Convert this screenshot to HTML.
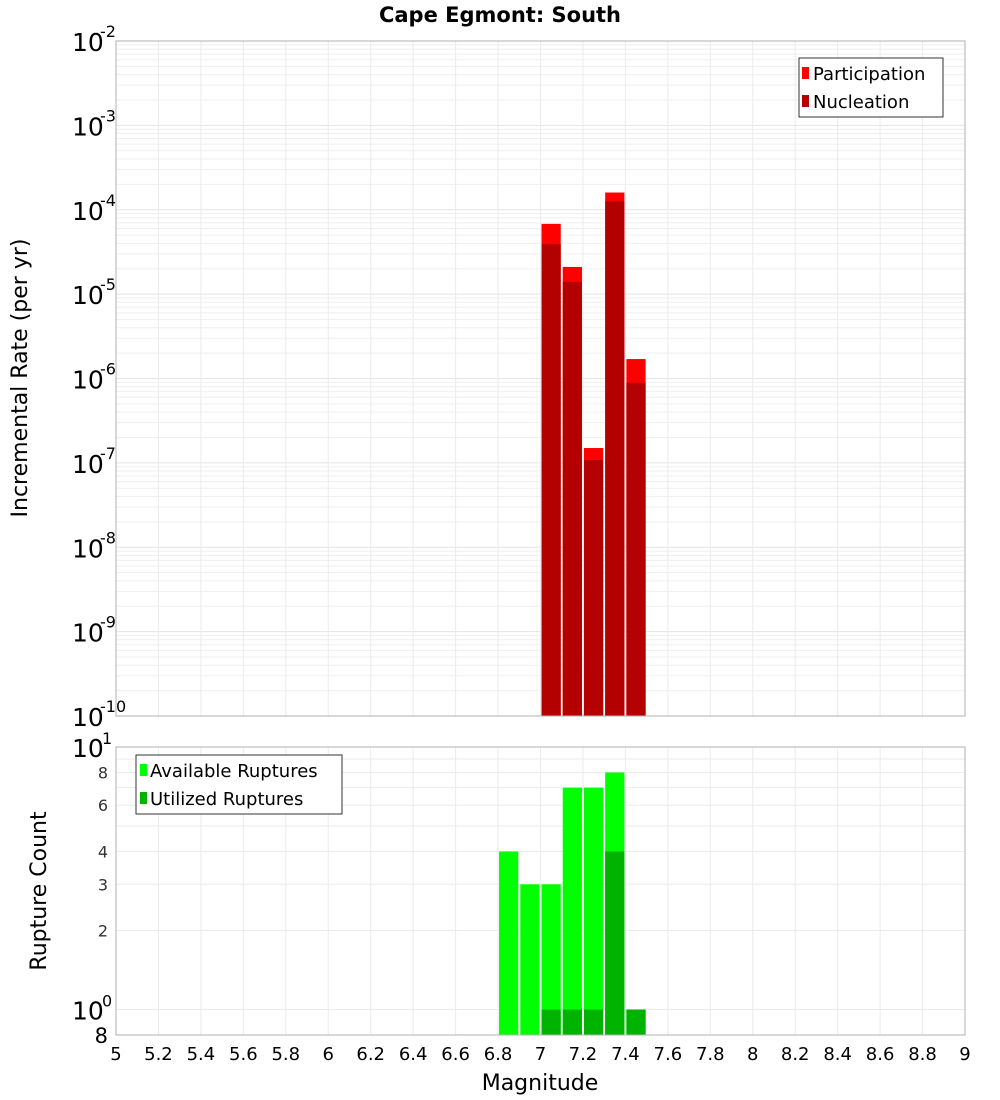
<!DOCTYPE html>
<html><head><meta charset="utf-8"><style>body{margin:0;background:#fff}svg{display:block;font-family:"DejaVu Sans","Liberation Sans",sans-serif}</style></head>
<body>
<svg id="c" width="1000" height="1100"></svg>
<script>
const mags=[6.85,6.95,7.05,7.15,7.25,7.35,7.45];
const participation=[0,0,6.8e-5,2.1e-5,1.5e-7,1.6e-4,1.7e-6];
const nucleation=[0,0,3.9e-5,1.4e-5,1.08e-7,1.26e-4,8.9e-7];
const available=[4,3,3,7,7,8,1];
const utilized=[0,0,1,1,1,4,1];
const xTicks=[5,5.2,5.4,5.6,5.8,6,6.2,6.4,6.6,6.8,7,7.2,7.4,7.6,7.8,8,8.2,8.4,8.6,8.8,9];
const botTicks=[2,3,4,6,8];
const svg=document.getElementById('c');const NS='http://www.w3.org/2000/svg';
function mk(t,a,txt){const e=document.createElementNS(NS,t);for(const k in a)e.setAttribute(k,a[k]);if(txt!==undefined)e.textContent=txt;svg.appendChild(e);return e;}
const X0=116,X1=965;const x=m=>X0+(m-5)/4*(X1-X0);
const T0=41,T1=716;const yT=v=>T1-(Math.log10(v)+10)/8*(T1-T0);
const B0=747,B1=1035;const lmin=Math.log10(0.8);const yB=v=>B1-(Math.log10(v)-lmin)/(1-lmin)*(B1-B0);
// grids
for(let d=-10;d<-2;d++)for(let k=1;k<10;k++){const v=k*Math.pow(10,d);const e=mk('line',{x1:X0,x2:X1,y1:yT(v),y2:yT(v),stroke:k==1?'#e4e4e4':'#efefef','stroke-width':1});}
[1,2,3,4,5,6,7,8,9,10].forEach(v=>{const e=mk('line',{x1:X0,x2:X1,y1:yB(v),y2:yB(v),stroke:'#ebebeb'});});
xTicks.forEach(m=>{[[T0,T1],[B0,B1]].forEach(r=>{const e=mk('line',{x1:x(m),x2:x(m),y1:r[0],y2:r[1],stroke:'#ebebeb'});});});
// bars
const bw=(x(5.1)-x(5))-2;
mags.forEach((m,i)=>{
 if(participation[i]>0){let e=mk('rect',{x:x(m-0.05)+1,y:yT(participation[i]),width:bw,height:T1-yT(participation[i]),fill:'#ff0000'});}
 if(nucleation[i]>0){let e=mk('rect',{x:x(m-0.05)+1,y:yT(nucleation[i]),width:bw,height:T1-yT(nucleation[i]),fill:'#b30000'});}
 if(available[i]>0){let e=mk('rect',{x:x(m-0.05)+1,y:yB(available[i]),width:bw,height:B1-yB(available[i]),fill:'#00ff00'});}
 if(utilized[i]>0){let e=mk('rect',{x:x(m-0.05)+1,y:yB(utilized[i]),width:bw,height:B1-yB(utilized[i]),fill:'#00b300'});}
});
// frames
mk('rect',{x:X0,y:T0,width:X1-X0,height:T1-T0,fill:'none',stroke:'#b0b0b0'});
mk('rect',{x:X0,y:B0,width:X1-X0,height:B1-B0,fill:'none',stroke:'#b0b0b0'});
// title
mk('text',{x:500,y:22,'text-anchor':'middle','font-size':21,'font-weight':'bold'},'Cape Egmont: South');
// top y ticks
for(let d=-10;d<=-2;d++){const y=yT(Math.pow(10,d));const t=mk('text',{x:72,y:y+10,'font-size':25},'10');
 mk('text',{x:100,y:y-4,'font-size':16},String(d));}
// bottom y ticks
mk('text',{x:72,y:yB(10)+10,'font-size':25},'10');mk('text',{x:102,y:yB(10)-3,'font-size':16},'1');
mk('text',{x:72,y:yB(1)+10,'font-size':25},'10');mk('text',{x:102,y:yB(1)-3,'font-size':16},'0');
botTicks.forEach(v=>{const t=mk('text',{x:108,y:yB(v)+6,'font-size':16,'text-anchor':'end',fill:'#333'},String(v));});
mk('text',{x:108,y:1043,'font-size':21,'text-anchor':'end'},'8');
// x ticks
xTicks.forEach(m=>{const t=mk('text',{x:x(m),y:1060,'font-size':18,'text-anchor':'middle'},String(m));});
mk('text',{x:540,y:1090,'font-size':22,'text-anchor':'middle'},'Magnitude');
mk('text',{x:0,y:0,'font-size':22,'text-anchor':'middle',transform:'translate(27,378) rotate(-90)'},'Incremental Rate (per yr)');
mk('text',{x:0,y:0,'font-size':22,'text-anchor':'middle',transform:'translate(46,891) rotate(-90)'},'Rupture Count');
// legends
mk('rect',{x:799,y:58,width:144,height:59,fill:'#fff',stroke:'#333'});
mk('rect',{x:802,y:67,width:7,height:12,fill:'#ff0000'});mk('text',{x:813,y:80,'font-size':18},'Participation');
mk('rect',{x:802,y:95,width:7,height:12,fill:'#b30000'});mk('text',{x:813,y:108,'font-size':18},'Nucleation');
mk('rect',{x:136,y:755,width:206,height:59,fill:'#fff',stroke:'#333'});
mk('rect',{x:140,y:764,width:7,height:12,fill:'#00ff00'});mk('text',{x:150,y:777,'font-size':18},'Available Ruptures');
mk('rect',{x:140,y:792,width:7,height:12,fill:'#00b300'});mk('text',{x:150,y:805,'font-size':18},'Utilized Ruptures');
</script>
</body></html>
